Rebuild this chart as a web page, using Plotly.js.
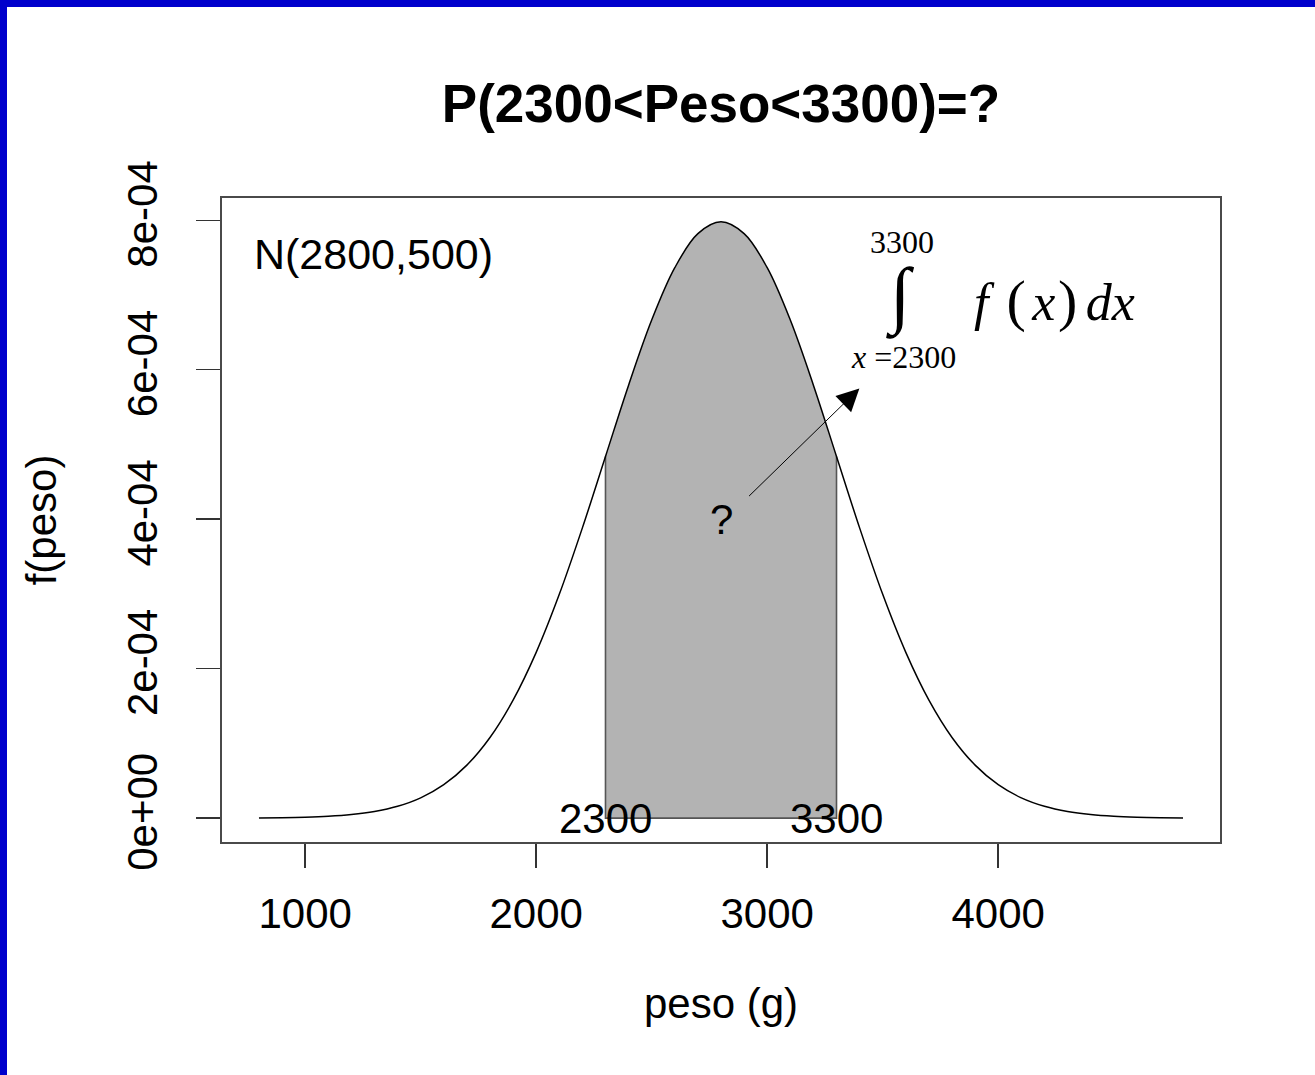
<!DOCTYPE html>
<html>
<head>
<meta charset="utf-8">
<script src="https://cdn.plot.ly/plotly-3.0.1.min.js"></script>
<style>
  html, body { margin: 0; padding: 0; background: #ffffff; }
  #chart { width: 1308px; height: 1068px; border-top: 7px solid #0000CC; border-left: 7px solid #0000CC; }
</style>
</head>
<body>
<div id="chart"></div>
<script>
// Density of N(2800, 500) read at every 100 g (peso)
const peso = [800, 900, 1000, 1100, 1200, 1300, 1400, 1500, 1600, 1700, 1800, 1900, 2000, 2100, 2200, 2300, 2400, 2500, 2600, 2700, 2800,
              2900, 3000, 3100, 3200, 3300, 3400, 3500, 3600, 3700, 3800, 3900, 4000, 4100, 4200, 4300, 4400, 4500, 4600, 4700, 4800];
const densidad = [0.00000027, 0.00000058, 0.00000122, 0.00000247, 0.00000477, 0.00000886, 0.00001583, 0.00002717, 0.00004479, 0.00007095,
                  0.00010798, 0.00015791, 0.00022184, 0.00029946, 0.00038839, 0.00048394, 0.00057939, 0.00066645, 0.00073654, 0.00078209,
                  0.00079788,
                  0.00078209, 0.00073654, 0.00066645, 0.00057939, 0.00048394, 0.00038839, 0.00029946, 0.00022184, 0.00015791, 0.00010798,
                  0.00007095, 0.00004479, 0.00002717, 0.00001583, 0.00000886, 0.00000477, 0.00000247, 0.00000122, 0.00000058, 0.00000027];
const limInf = 2300;
const limSup = 3300;
const xTicks = [1000, 2000, 3000, 4000];
const yTicks = [0, 0.0002, 0.0004, 0.0006, 0.0008];
const yTickText = ['0e+00', '2e-04', '4e-04', '6e-04', '8e-04'];

// shaded region under the curve between limInf and limSup
const areaX = [], areaY = [];
for (let i = 0; i < peso.length; i++) {
  if (peso[i] >= limInf && peso[i] <= limSup) { areaX.push(peso[i]); areaY.push(densidad[i]); }
}
const edgeX = [areaX[0], areaX[0], areaX[areaX.length - 1], areaX[areaX.length - 1]];
const edgeY = [areaY[0], 0, 0, areaY[areaY.length - 1]];

const traces = [
  { x: areaX, y: areaY, type: 'scatter', mode: 'lines', fill: 'tozeroy', fillcolor: '#B3B3B3',
    line: { color: '#000000', width: 0, shape: 'spline', smoothing: 1 }, hoverinfo: 'skip', showlegend: false },
  { x: edgeX, y: edgeY, type: 'scatter', mode: 'lines',
    line: { color: '#555555', width: 1.6 }, hoverinfo: 'skip', showlegend: false },
  { x: peso, y: densidad, type: 'scatter', mode: 'lines',
    line: { color: '#000000', width: 1.5, shape: 'spline', smoothing: 1 }, hoverinfo: 'skip', showlegend: false }
];

const sans = 'Liberation Sans, Arial, Helvetica, sans-serif';
const serif = 'Liberation Serif, Times New Roman, serif';
const gap = (px) => '<span style="font-size:' + px + 'px"> </span>';

const layout = {
  width: 1308, height: 1068,
  margin: { l: 215, r: 95, t: 191, b: 233, pad: 0 },
  paper_bgcolor: '#ffffff', plot_bgcolor: '#ffffff',
  showlegend: false,
  title: { text: '<b>P(2300<Peso<3300)=?</b>', font: { family: sans, size: 53, color: '#000' },
           x: 0.5, xanchor: 'center', xref: 'paper', y: 1 - 96 / 1068, yref: 'container', yanchor: 'middle' },
  xaxis: {
    range: [640, 4960], tickvals: xTicks, ticktext: xTicks.map(String),
    showgrid: false, zeroline: false,
    showline: true, mirror: true, linecolor: '#4a4a4a', linewidth: 1.8,
    ticks: 'outside', ticklen: 24, tickwidth: 1.5, tickcolor: '#333',
    ticklabelstandoff: 10,
    tickfont: { family: sans, size: 42, color: '#000' },
    title: { text: 'peso (g)', font: { family: sans, size: 42, color: '#000' }, standoff: 52 }
  },
  yaxis: {
    range: [-0.00003192, 0.00082979], tickvals: yTicks, ticktext: yTickText, tickangle: -90,
    showgrid: false, zeroline: false,
    showline: true, mirror: true, linecolor: '#4a4a4a', linewidth: 1.8,
    ticks: 'outside', ticklen: 24, tickwidth: 1.5, tickcolor: '#333',
    ticklabelstandoff: 22,
    tickfont: { family: sans, size: 42, color: '#000' },
    title: { text: 'f(peso)', font: { family: sans, size: 42, color: '#000' }, standoff: 50 }
  },
  annotations: [
    { x: limInf, y: 0, xref: 'x', yref: 'y', text: '2300', showarrow: false,
      xanchor: 'center', yanchor: 'middle', font: { family: sans, size: 42, color: '#000' } },
    { x: limSup, y: 0, xref: 'x', yref: 'y', text: '3300', showarrow: false,
      xanchor: 'center', yanchor: 'middle', font: { family: sans, size: 42, color: '#000' } },
    { x: 770, y: 0.0007545, xref: 'x', yref: 'y', text: 'N(2800,500)', showarrow: false,
      xanchor: 'left', yanchor: 'middle', font: { family: sans, size: 43, color: '#000' } },
    { x: 2800, y: 0.0004, xref: 'x', yref: 'y', text: '?', showarrow: false,
      xanchor: 'center', yanchor: 'middle', font: { family: sans, size: 42, color: '#000' } },
    { x: 3399, y: 0.000575, xref: 'x', yref: 'y', ax: 2915, ay: 0.000429, axref: 'x', ayref: 'y',
      text: '', showarrow: true, arrowhead: 2, arrowsize: 4.5, arrowwidth: 1, arrowcolor: '#000', standoff: 0 },
    { x: 3584, y: 0.0007706, xref: 'x', yref: 'y', text: '3300', showarrow: false,
      xanchor: 'center', yanchor: 'middle', font: { family: serif, size: 32, color: '#000' } },
    { x: 3578, y: 0.000698, xref: 'x', yref: 'y', text: '<b>\u222B</b>', showarrow: false,
      xanchor: 'center', yanchor: 'middle', font: { family: serif, size: 74, color: '#000' } },
    { x: 3592, y: 0.000617, xref: 'x', yref: 'y', text: '<i>x</i> =2300', showarrow: false,
      xanchor: 'center', yanchor: 'middle', font: { family: serif, size: 32, color: '#000' } },
    { x: 3885, y: 0.000693, xref: 'x', yref: 'y',
      text: '<i>f</i> ' + gap(20) + '<span style="font-size:58px">(</span>' + gap(26) + '<i>x</i>' + gap(10) +
            '<span style="font-size:58px">)</span>' + gap(34) + '<i>dx</i>',
      showarrow: false, xanchor: 'left', yanchor: 'middle', font: { family: serif, size: 52, color: '#000' } }
  ]
};

Plotly.newPlot('chart', traces, layout, { displayModeBar: false, staticPlot: true });
</script>
</body>
</html>
